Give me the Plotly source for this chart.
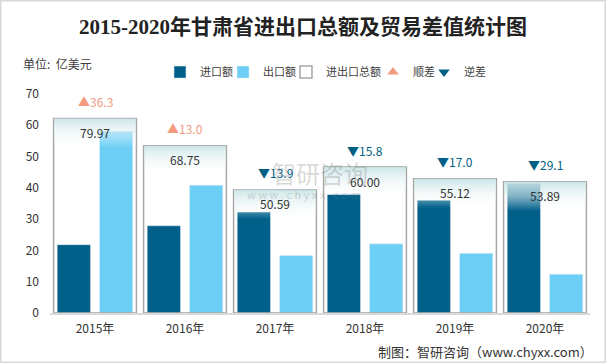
import plotly.graph_objects as go

years = ["2015年", "2016年", "2017年", "2018年", "2019年", "2020年"]
imports = [21.84, 27.88, 32.25, 37.90, 36.06, 41.50]
exports = [58.13, 40.87, 18.34, 22.10, 19.06, 12.39]
totals = [79.97, 68.75, 50.59, 60.00, 55.12, 53.89]
balance = [36.3, 13.0, -13.9, -15.8, -17.0, -29.1]

C_IMP = "#00608a"
C_EXP = "#6dcff6"
C_SUR = "#f29b7f"
C_DEF = "#005f85"
FONT = "Noto Sans CJK SC"

idx = list(range(len(years)))
fig = go.Figure()

fig.add_trace(go.Bar(x=idx, y=imports, name="进口额", marker_color=C_IMP,
                     width=0.37, offset=-0.42, legend="legend"))
fig.add_trace(go.Bar(x=idx, y=exports, name="出口额", marker_color=C_EXP,
                     width=0.37, offset=0.05, legend="legend2"))
fig.add_trace(go.Bar(x=idx, y=totals, name="进出口总额", yaxis="y2",
                     marker=dict(color="rgba(255,255,255,0)",
                                 line=dict(color="#a6a6a6", width=1.5)),
                     width=0.92, offset=-0.46, legend="legend3"))

# gradient glaze at the top of each total box
for i, t in zip(idx, totals):
    fig.add_trace(go.Scatter(
        x=[i - 0.455, i + 0.455, i + 0.455, i - 0.455, i - 0.455],
        y=[0, 0, t, t, 0], yaxis="y2", mode="lines", line=dict(width=0),
        fill="toself",
        fillgradient=dict(type="vertical", start=t - 12, stop=t,
                          colorscale=[[0, "rgba(255,255,255,0)"],
                                      [0.5, "rgba(232,244,244,0.55)"],
                                      [1, "rgba(200,228,230,0.92)"]]),
        showlegend=False, hoverinfo="skip"))

fig.add_trace(go.Scatter(x=[None], y=[None], mode="markers", name="顺差",
                         marker=dict(symbol="triangle-up", color=C_SUR, size=10),
                         legend="legend4"))
fig.add_trace(go.Scatter(x=[None], y=[None], mode="markers", name="逆差",
                         marker=dict(symbol="triangle-down", color=C_DEF, size=10),
                         legend="legend5"))

ann = []
for i, t, b in zip(idx, totals, balance):
    ann.append(dict(x=i, y=t, xref="x", yref="y2", yshift=-14, showarrow=False,
                    text=f"{t:.2f}", font=dict(size=12, color="#333333", family=FONT)))
    sym = "▲" if b >= 0 else "▼"
    col = C_SUR if b >= 0 else C_DEF
    ann.append(dict(x=i, y=t, xref="x", yref="y2", yshift=17, showarrow=False,
                    text=f"{sym}{abs(b):.1f}", font=dict(size=12, color=col, family=FONT)))

ann.append(dict(x=-0.054, y=1.139, xref="paper", yref="paper", xanchor="left",
                yanchor="middle", showarrow=False, text="单位:  亿美元",
                font=dict(size=12, color="#404040", family=FONT)))
ann.append(dict(x=1.009, y=-0.177, xref="paper", yref="paper", xanchor="right",
                yanchor="middle", showarrow=False, text="制图：智研咨询（www.chyxx.com）",
                font=dict(size=13, color="#333333", family=FONT)))
# watermark
ann.append(dict(x=0.50, y=0.64, xref="paper", yref="paper", xanchor="center",
                yanchor="middle", showarrow=False, text="智研咨询",
                font=dict(size=24, color="rgba(120,120,120,0.3)", family=FONT)))
ann.append(dict(x=0.47, y=0.545, xref="paper", yref="paper", xanchor="center",
                yanchor="middle", showarrow=False, text="w w w . c h y x x . c o m",
                font=dict(size=11, color="rgba(120,120,120,0.3)", family=FONT)))

leg_common = dict(orientation="h", y=1.10, yanchor="middle", xanchor="left",
                  font=dict(size=11, color="#404040"), itemwidth=30,
                  bgcolor="rgba(0,0,0,0)")
leg_x = [0.2037, 0.3204, 0.4370, 0.5981, 0.6926]

fig.update_layout(
    width=606, height=363,
    margin=dict(l=50, r=16, t=94, b=50),
    paper_bgcolor="white", plot_bgcolor="white",
    font=dict(family=FONT, size=12, color="#404040"),
    title=dict(text="<b>2015-2020年甘肃省进出口总额及贸易差值统计图</b>",
               x=0.5, xanchor="center", y=1 - 27 / 363, yanchor="middle",
               font=dict(family="Liberation Serif, Noto Sans CJK SC", size=21,
                         color="#222222")),
    barmode="overlay",
    xaxis=dict(range=[-0.5, 5.5], tickvals=idx, ticktext=years, showgrid=False,
               zeroline=False, showline=True, linecolor="#d9d9d9", linewidth=1.5,
               ticks="", ticklabelstandoff=4, tickfont=dict(size=12, color="#333333")),
    yaxis=dict(range=[0, 70], dtick=10, showgrid=False, zeroline=False,
               showline=False, ticks="", ticklabelstandoff=10,
               tickfont=dict(size=12, color="#333333")),
    yaxis2=dict(range=[0, 90], overlaying="y", side="right", visible=False),
    legend=dict(leg_common, x=leg_x[0]),
    legend2=dict(leg_common, x=leg_x[1]),
    legend3=dict(leg_common, x=leg_x[2]),
    legend4=dict(leg_common, x=leg_x[3]),
    legend5=dict(leg_common, x=leg_x[4]),
    annotations=ann,
    shapes=[dict(type="rect", xref="paper", yref="paper",
                 x0=-50 / 540 + 0.001, x1=1 + 16 / 540 - 0.001,
                 y0=-50 / 219 + 0.002, y1=1 + 94 / 219 - 0.002,
                 line=dict(color="#d9d9d9", width=2), layer="below")],
)

fig.write_html("out.html", config={"displayModeBar": False},
               post_script="document.body.style.margin='0';document.body.style.overflow='hidden';")
